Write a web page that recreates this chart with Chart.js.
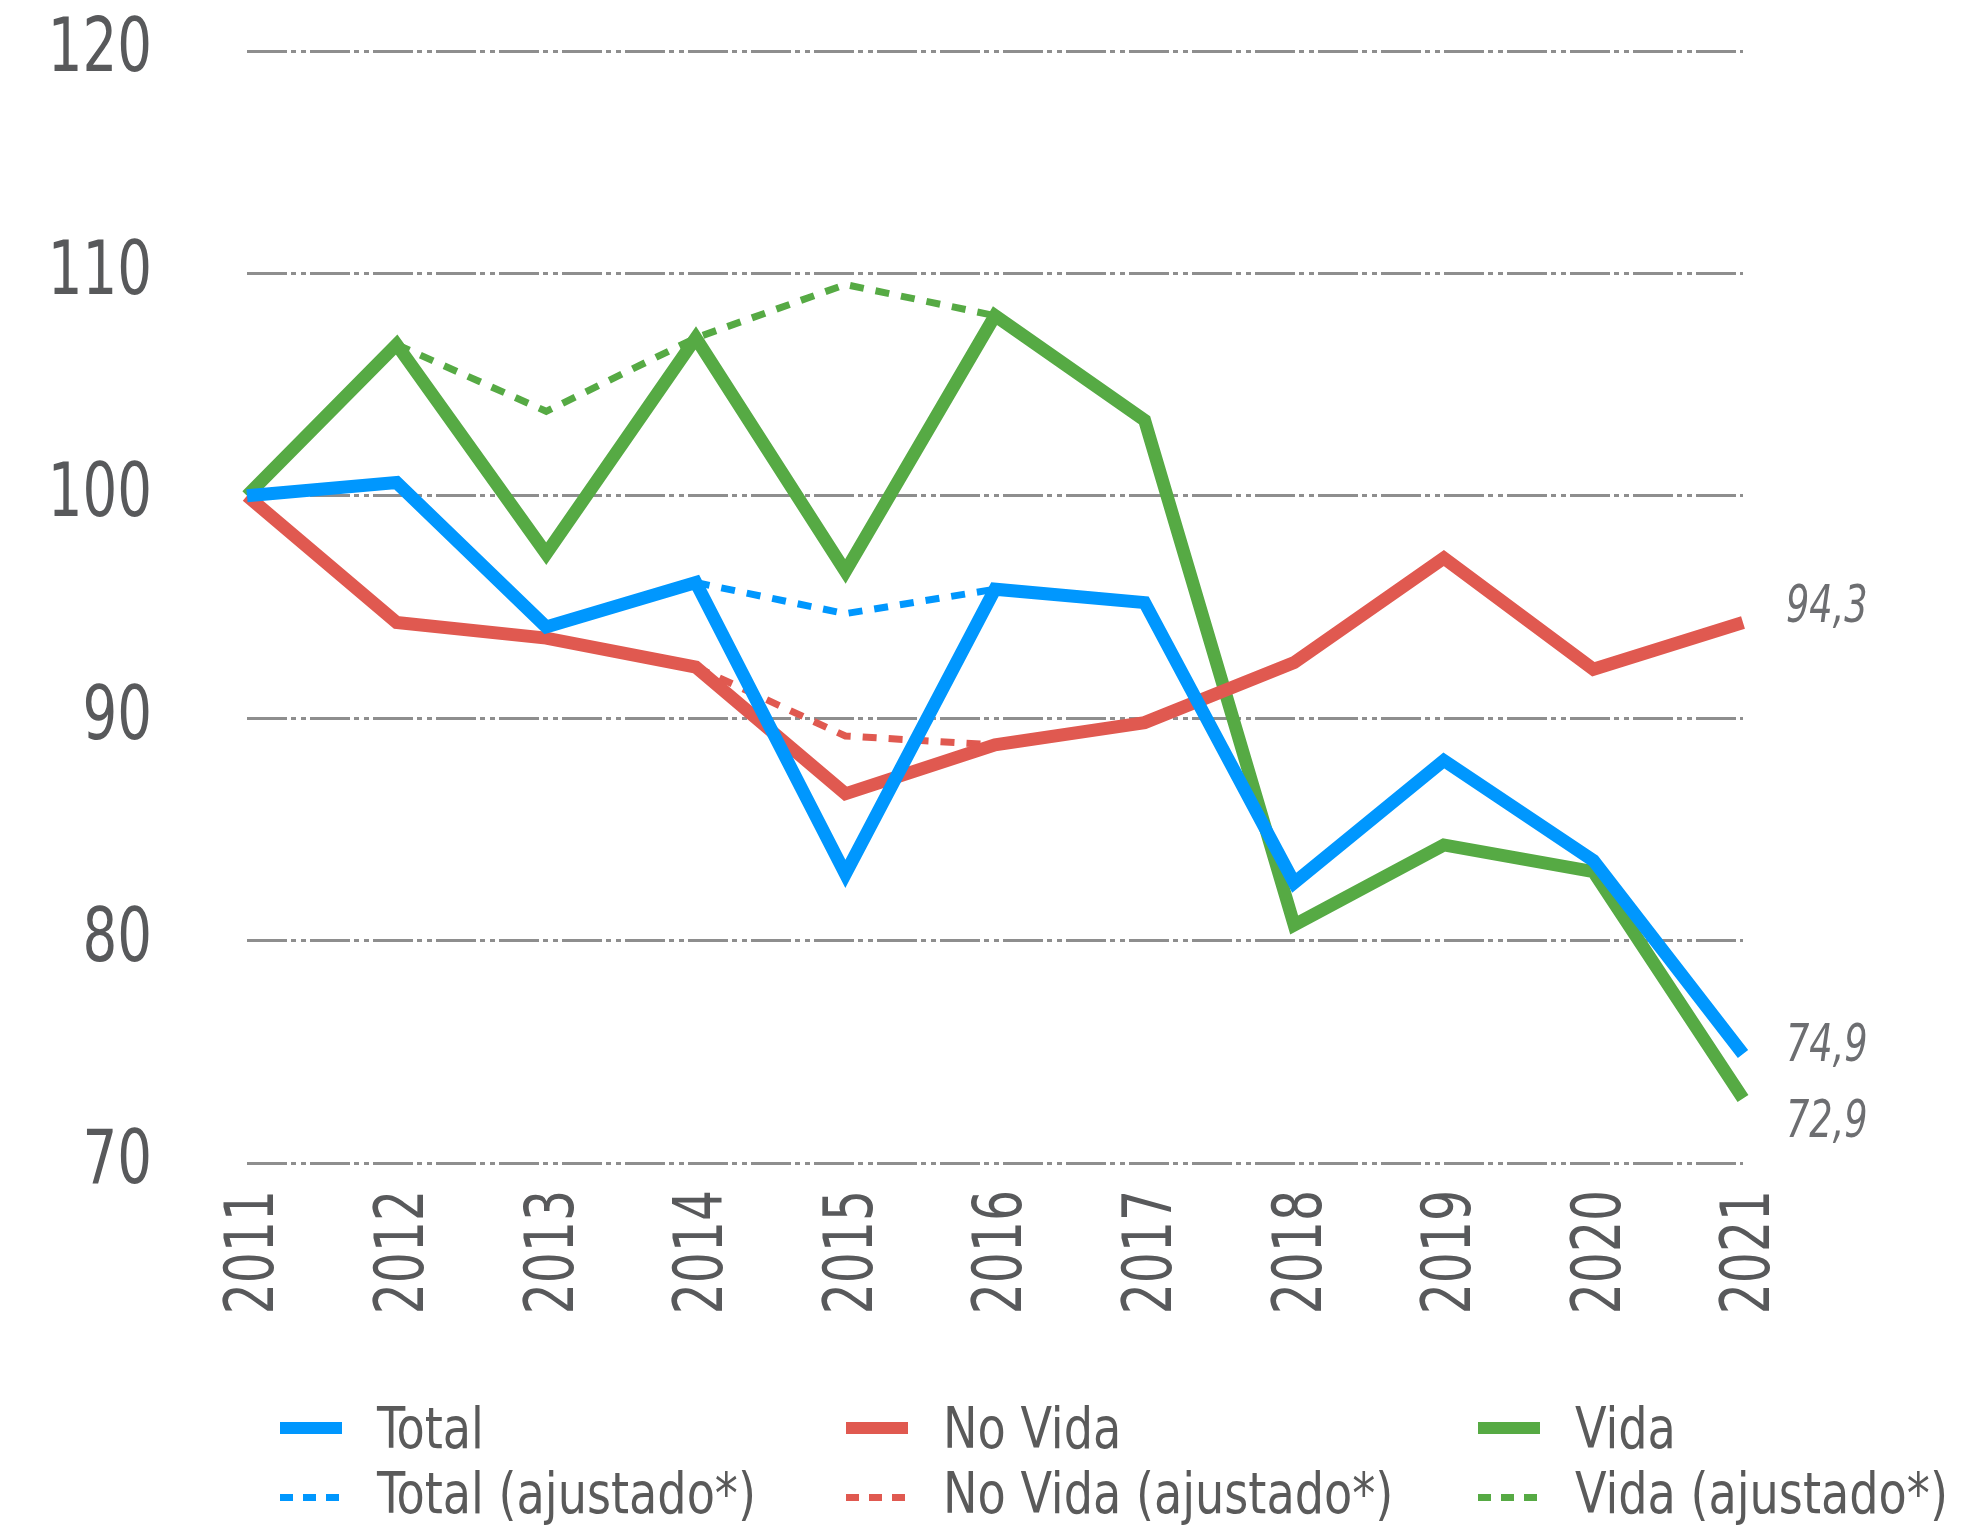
<!DOCTYPE html>
<html>
<head>
<meta charset="utf-8">
<script src="https://cdn.jsdelivr.net/npm/chart.js@4.4.1/dist/chart.umd.min.js"></script>
<style>
    html, body { margin: 0; padding: 0; background: #fff; }
    #wrap { position: relative; width: 1970px; height: 1527px; }
    #legend {
        position: absolute; left: 280px; top: 1396px;
        display: grid; grid-template-columns: 566px 632px 420px;
        font-family: 'DejaVu Sans Condensed', 'DejaVu Sans', sans-serif;
        font-size: 57px; line-height: 65px; color: #5a5a5a;
    }
    .item { display: flex; align-items: center; white-space: nowrap; }
    .swatch { width: 62px; margin-right: 35px; flex-shrink: 0; }
    .item span { display: inline-block; transform: scaleX(0.9); transform-origin: left center; }
</style>
</head>
<body>
<div id="wrap">
    <canvas id="lineChart" width="1970" height="1527"></canvas>
    <div id="legend"></div>
</div>
<script>
const years = ['2011', '2012', '2013', '2014', '2015', '2016', '2017', '2018', '2019', '2020', '2021'];
const total = [100, 100.6, 94.1, 96.1, 83.0, 95.8, 95.2, 82.6, 88.1, 83.6, 74.9];
const noVida = [100, 94.3, 93.6, 92.3, 86.6, 88.8, 89.8, 92.5, 97.2, 92.2, 94.3];
const vida = [100, 106.8, 97.4, 107.1, 96.6, 108.1, 103.4, 80.7, 84.3, 83.1, 72.9];
const totalAdj = [null, null, null, 96.1, 94.7, 95.8, null, null, null, null, null];
const noVidaAdj = [null, null, null, 92.3, 89.2, 88.8, null, null, null, null, null];
const vidaAdj = [null, 106.8, 103.8, 107.1, 109.5, 108.1, null, null, null, null, null];
const yTicks = [70, 80, 90, 100, 110, 120];

const fontFamily = "'DejaVu Sans Condensed', 'DejaVu Sans', sans-serif";
const BLUE = '#0097fe';
const RED = '#e05950';
const GREEN = '#56aa44';
const TEXT = '#58595b';

// offsets for the value labels at the end of the solid lines
const endLabelShift = { 'Total': -6, 'No Vida': -14, 'Vida': 25 };

// the original uses a narrow DIN-like face, so squeeze the text horizontally
function squeezedText(ctx, text, x, y, sx, angle) {
    ctx.save();
    ctx.translate(x, y);
    if (angle) ctx.rotate(angle);
    ctx.scale(sx, 1);
    ctx.fillText(text, 0, 0);
    ctx.restore();
}

const axisLabels = {
    id: 'axisLabels',
    afterDraw(chart) {
        const ctx = chart.ctx;
        const xs = chart.scales.x, ys = chart.scales.y;
        ctx.save();
        ctx.fillStyle = TEXT;
        ctx.textBaseline = 'middle';
        ctx.textAlign = 'right';
        ctx.font = '75px ' + fontFamily;
        yTicks.forEach(v => {
            squeezedText(ctx, String(v), ys.right - 95, ys.getPixelForValue(v) + 1, 0.81);
        });
        ctx.font = '67px ' + fontFamily;
        years.forEach((yr, i) => {
            squeezedText(ctx, yr, xs.getPixelForValue(i) + 9, xs.top + 27, 0.81, -Math.PI / 2);
        });
        ctx.restore();
    }
};

const endLabels = {
    id: 'endLabels',
    afterDatasetsDraw(chart) {
        const ctx = chart.ctx;
        ctx.save();
        ctx.font = 'italic 51px ' + fontFamily;
        ctx.fillStyle = '#6d6e71';
        ctx.textBaseline = 'middle';
        ctx.textAlign = 'left';
        chart.data.datasets.forEach((ds, i) => {
            if (ds.dashed) return;
            const meta = chart.getDatasetMeta(i);
            const last = meta.data[meta.data.length - 1];
            const value = ds.data[ds.data.length - 1];
            squeezedText(ctx, value.toFixed(1).replace('.', ','), last.x + 43, last.y + endLabelShift[ds.label], 0.8);
        });
        ctx.restore();
    }
};

function solid(label, data, color, order) {
    return { label, data, borderColor: color, backgroundColor: color, borderWidth: 13,
             pointRadius: 0, tension: 0, order, dashed: false };
}
function dashed(label, data, color, order) {
    return { label, data, borderColor: color, backgroundColor: color, borderWidth: 7,
             borderDash: [14, 12], pointRadius: 0, tension: 0, order, spanGaps: false, dashed: true };
}

const chart = new Chart(document.getElementById('lineChart'), {
    type: 'line',
    data: {
        labels: years,
        datasets: [
            solid('Total', total, BLUE, 1),
            solid('No Vida', noVida, RED, 2),
            solid('Vida', vida, GREEN, 3),
            dashed('Total (ajustado*)', totalAdj, BLUE, 4),
            dashed('No Vida (ajustado*)', noVidaAdj, RED, 5),
            dashed('Vida (ajustado*)', vidaAdj, GREEN, 6)
        ]
    },
    options: {
        responsive: false,
        animation: false,
        layout: { padding: { top: 51, right: 227, bottom: 0, left: 0 } },
        plugins: { legend: { display: false }, tooltip: { enabled: false } },
        scales: {
            x: {
                grid: { display: false, drawTicks: false },
                border: { display: false },
                ticks: { display: false },
                afterFit(scale) { scale.height = 364; }
            },
            y: {
                min: 70, max: 120,
                afterBuildTicks(scale) { scale.ticks = yTicks.map(v => ({ value: v })); },
                grid: { color: '#8e8e8e', lineWidth: 3, drawTicks: false },
                border: { display: false, dash: [40, 4, 5, 5, 5, 4] },
                ticks: { display: false },
                afterFit(scale) { scale.width = 247; }
            }
        }
    },
    plugins: [endLabels, axisLabels]
});

// Legend built from the datasets
const legend = document.getElementById('legend');
chart.data.datasets.forEach(ds => {
    const item = document.createElement('div');
    item.className = 'item';
    const sw = document.createElement('div');
    sw.className = 'swatch';
    if (ds.dashed) {
        sw.style.height = '7px';
        sw.style.width = '59px';
        sw.style.marginRight = '38px';
        sw.style.marginTop = '8px';
        sw.style.background = `repeating-linear-gradient(to right, ${ds.borderColor} 0 13px, transparent 13px 23px)`;
    } else {
        sw.style.height = '12px';
        sw.style.marginTop = '-2px';
        sw.style.background = ds.borderColor;
    }
    const txt = document.createElement('span');
    txt.textContent = ds.label;
    item.appendChild(sw);
    item.appendChild(txt);
    legend.appendChild(item);
});
</script>
</body>
</html>
